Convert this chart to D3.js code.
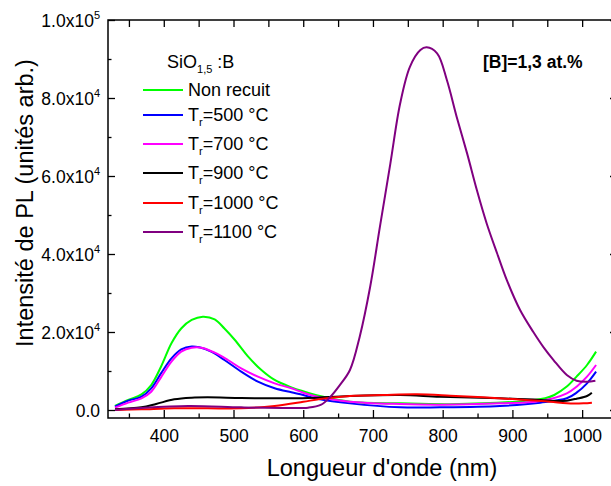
<!DOCTYPE html>
<html><head><meta charset="utf-8">
<script src="https://cdn.jsdelivr.net/npm/d3@7"></script>
<style>
html,body{margin:0;padding:0;background:#fff;}
svg{display:block;font-family:"Liberation Sans",Arial,sans-serif;}
</style></head>
<body>
<svg id="chart" width="611" height="486"></svg>
<script>
// ---- data (wavelength nm, PL intensity) ----
const nonRecuit = [[330,1030],[349,2560],[368,4000],[382,6400],[396,11100],[411,17100],[425,20900],[440,23080],[456,23930],[473,23250],[487,20900],[502,17950],[521,13670],[540,10250],[559,7700],[583,5810],[600,4800],[624,3600],[667,2140],[740,1700],[811,1500],[906,2140],[947,3000],[960,3850],[978,6000],[992,8550],[1007,11540],[1020,14960]];
const tr500 = [[330,850],[349,2400],[368,3400],[382,5550],[396,9400],[411,13250],[425,15550],[440,16300],[451,16070],[468,14960],[487,12820],[511,9830],[535,7260],[559,5560],[583,4530],[600,3850],[624,2740],[667,1700],[739,690],[796,690],[882,1030],[940,1880],[978,3000],[992,4440],[1007,6840],[1020,9830]];
const tr700 = [[330,600],[349,1880],[368,3000],[382,4700],[396,8380],[411,12390],[425,14960],[440,15980],[454,15980],[473,14700],[492,12820],[511,10680],[535,8550],[559,6840],[583,5560],[600,4440],[624,3250],[667,2140],[739,1540],[796,1370],[882,1710],[940,2300],[978,4270],[992,5980],[1007,8550],[1020,11540]];
const tr900 = [[330,200],[368,690],[389,1540],[415,2740],[440,3170],[463,3250],[511,3080],[559,3000],[607,3080],[667,3590],[739,3850],[796,3420],[882,3000],[940,2560],[960,2300],[978,2400],[992,2900],[1007,3600],[1014,4400]];
const tr1000 = [[330,0],[368,170],[415,430],[463,430],[511,430],[559,1030],[600,2100],[624,2800],[667,3590],[715,3850],[763,4020],[811,3680],[858,3250],[906,2740],[954,2140],[978,1710],[1002,1710],[1014,1880]];
const tr1100 = [[330,0],[368,510],[435,1030],[511,680],[580,500],[607,600],[625,1300],[638,3200],[653,6500],[667,10250],[681,18800],[696,31600],[710,47000],[725,63250],[739,78600],[753,88000],[768,92300],[777,93000],[792,91450],[806,84600],[820,75200],[835,65800],[849,56400],[863,47900],[878,40200],[892,33300],[911,25640],[930,20000],[945,16000],[959,12800],[978,8970],[992,7500],[1007,7260],[1019,7500]];

const seriesNames = ["Non recuit","500","700","900","1000","1100"];
const seriesColors = ["#00ff00","#0000ff","#ff00ff","#000000","#ff0000","#800080"];
const seriesData = [nonRecuit,tr500,tr700,tr900,tr1000,tr1100];

const xTicks = [400,500,600,700,800,900,1000];
const yTickMant = ["0.0","2.0","4.0","6.0","8.0","1.0"];
const yTickExp = ["","4","4","4","4","5"];
const yTickVals = [0,20000,40000,60000,80000,100000];

// ---- layout ----
const svg = d3.select("#chart");
const L=108, R=617, T=20, B=418;
const x = d3.scaleLinear().domain([320,1050]).range([L,R]);
const y = d3.scaleLinear().domain([0,100000]).range([410,20]);

// curves
const line = d3.line().x(d=>x(d[0])).y(d=>y(d[1])).curve(d3.curveCatmullRom.alpha(0.5));
const plot = svg.append("g");
seriesData.forEach((s,i)=>{
  plot.append("path").attr("d",line(s)).attr("fill","none")
    .attr("stroke",seriesColors[i]).attr("stroke-width",2).attr("stroke-linejoin","round");
});

// frame
svg.append("rect").attr("x",L).attr("y",T).attr("width",R-L).attr("height",B-T)
  .attr("fill","none").attr("stroke","#000").attr("stroke-width",1.5);

// axes with inward ticks
const xMinor = d3.range(350,1051,100);
const gx = svg.append("g").attr("transform",`translate(0,${B})`);
gx.call(d3.axisBottom(x).tickValues(xTicks).tickSize(-8).tickFormat(d3.format("d")).tickPadding(12));
gx.select(".domain").remove();
gx.selectAll(".tick line").attr("stroke-width",1.3);
gx.selectAll(".tick text").attr("font-size",17.5).attr("font-family","Liberation Sans, Arial, sans-serif").attr("fill","#000");
const gxm = svg.append("g").attr("transform",`translate(0,${B})`);
gxm.call(d3.axisBottom(x).tickValues(xMinor).tickSize(-4.5).tickFormat(""));
gxm.select(".domain").remove();
gxm.selectAll(".tick line").attr("stroke-width",1.3);

// top ticks
const gt = svg.append("g").attr("transform",`translate(0,${T})`);
gt.call(d3.axisTop(x).tickValues(d3.range(350,1051,50)).tickSize(-7).tickFormat(""));
gt.select(".domain").remove();
gt.selectAll(".tick line").attr("stroke-width",1.3);

// left axis
const gy = svg.append("g").attr("transform",`translate(${L},0)`);
gy.call(d3.axisLeft(y).tickValues(yTickVals).tickSize(-7).tickFormat(""));
gy.select(".domain").remove();
gy.selectAll(".tick line").attr("stroke-width",1.3);
const gym = svg.append("g").attr("transform",`translate(${L},0)`);
gym.call(d3.axisLeft(y).tickValues(d3.range(10000,100000,20000)).tickSize(-3.5).tickFormat(""));
gym.select(".domain").remove();
gym.selectAll(".tick line").attr("stroke-width",1.3);
// right axis
const gr = svg.append("g").attr("transform",`translate(${R},0)`);
gr.call(d3.axisRight(y).tickValues(yTickVals).tickSize(-7).tickFormat(""));
gr.select(".domain").remove();
gr.selectAll(".tick line").attr("stroke-width",1.3);
const grm = svg.append("g").attr("transform",`translate(${R},0)`);
grm.call(d3.axisRight(y).tickValues(d3.range(10000,100000,20000)).tickSize(-3.5).tickFormat(""));
grm.select(".domain").remove();
grm.selectAll(".tick line").attr("stroke-width",1.3);

// y tick labels with superscripts
yTickVals.forEach((v,i)=>{
  const t = svg.append("text").attr("x",100).attr("y",y(v)+6.5).attr("text-anchor","end")
    .attr("font-size",17.5).attr("fill","#000");
  if(yTickExp[i]===""){ t.text(yTickMant[i]); }
  else {
    t.append("tspan").text(yTickMant[i]+"x10");
    t.append("tspan").attr("dy",-8).attr("font-size",11).text(yTickExp[i]);
  }
});

// axis titles
svg.append("text").attr("x",382).attr("y",476).attr("text-anchor","middle")
  .attr("font-size",23.5).attr("fill","#000").text("Longueur d'onde (nm)");
svg.append("text").attr("transform","translate(33,203) rotate(-90)").attr("text-anchor","middle")
  .attr("font-size",23.5).attr("fill","#000").text("Intensité de PL (unités arb.)");

// legend
const lg = svg.append("g");
const tt = lg.append("text").attr("x",167).attr("y",68).attr("font-size",18).attr("fill","#000");
tt.append("tspan").text("SiO");
tt.append("tspan").attr("dy",5).attr("font-size",11).text("1,5");
tt.append("tspan").attr("dy",-5).text(" :B");
const rowY = [90,115,144,173,203,232];
seriesNames.forEach((n,i)=>{
  lg.append("line").attr("x1",143).attr("x2",183).attr("y1",rowY[i]).attr("y2",rowY[i])
    .attr("stroke",seriesColors[i]).attr("stroke-width",2);
  const t = lg.append("text").attr("x",188).attr("y",rowY[i]+6).attr("font-size",18).attr("fill","#000");
  if(i===0) t.text(n);
  else {
    t.append("tspan").text("T");
    t.append("tspan").attr("dy",5).attr("font-size",11).text("r");
    t.append("tspan").attr("dy",-5).text("="+n+" °C");
  }
});

svg.append("text").attr("x",483).attr("y",68).attr("font-size",17.5).attr("font-weight","bold")
  .attr("fill","#000").text("[B]=1,3 at.%");
</script>
</body></html>
